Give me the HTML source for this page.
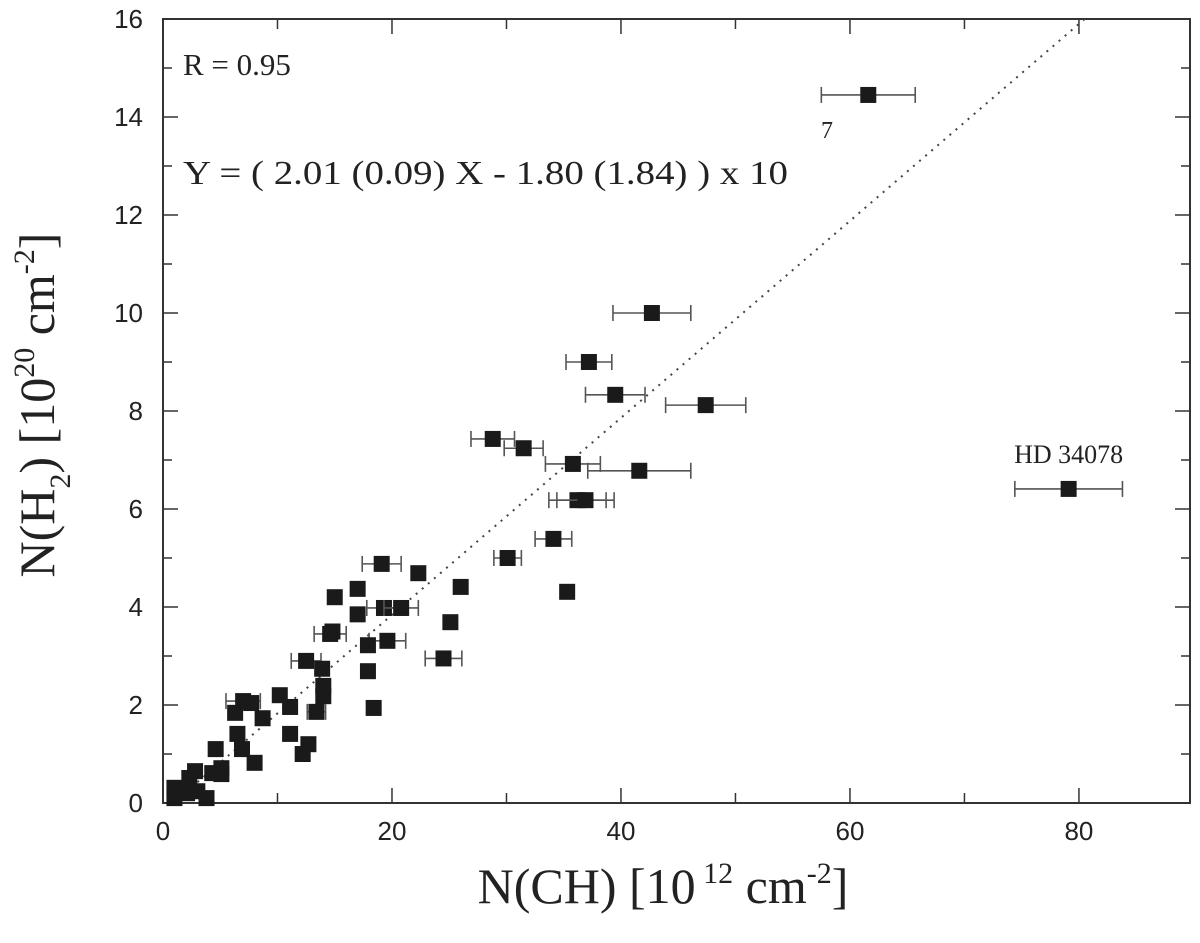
<!DOCTYPE html>
<html><head><meta charset="utf-8"><style>
html,body{margin:0;padding:0;background:#fff;}
svg{display:block;}
</style></head><body>
<svg id="chart" width="1200" height="943" xmlns="http://www.w3.org/2000/svg">
<g id="grid"></g>
<g id="marks"></g>
</svg>
<script>
const xs = [61.6,42.7,37.2,39.5,47.4,28.8,31.5,35.8,41.6,36.2,36.9,79.1,34.1,30.1,35.3,19.1,22.3,26.0,15.0,17.0,19.3,20.8,17.0,25.1,14.6,14.8,19.6,17.9,24.5,12.5,13.9,14.0,14.0,17.9,10.2,11.1,18.4,13.4,7.0,7.7,6.3,8.7,6.5,6.9,11.1,12.7,12.2,8.0,4.6,5.1,5.1,4.3,2.8,2.3,1.0,1.0,3.0,3.8,2.1];
const ys = [14.45,10.0,9.0,8.33,8.12,7.43,7.24,6.92,6.78,6.18,6.18,6.41,5.39,5.0,4.31,4.88,4.69,4.41,4.20,4.37,3.98,3.98,3.85,3.69,3.45,3.5,3.31,3.22,2.95,2.9,2.74,2.39,2.18,2.69,2.2,1.96,1.94,1.86,2.08,2.04,1.84,1.73,1.41,1.10,1.41,1.2,1.0,0.82,1.10,0.71,0.59,0.61,0.65,0.51,0.31,0.10,0.24,0.10,0.20];
const xerr = [4.1,3.4,2.0,2.6,3.5,1.9,1.7,2.4,4.5,2.5,2.5,4.7,1.6,1.2,0,1.7,0,0,0,0,1.5,1.5,0,0,1.4,0,1.6,0,1.6,1.3,0,0,0,0,0,0,0,0.8,1.5,0,0,0,0,0,0,0,0,0,0,0,0,0,0,0,0,0,0,0,0];
const xTicks = [0,20,40,60,80];
const yTicks = [0,2,4,6,8,10,12,14,16];
const fitSlope = 0.201, fitIntercept = -0.18;

const svg = document.getElementById('chart');
const G = document.getElementById('grid'), M = document.getElementById('marks');
const L=163,R=1190,T=19,B=803, XMAX=89.7, YMAX=16;
const sx = v => L + v*(R-L)/XMAX;
const sy = v => B - v*(B-T)/YMAX;
const NS='http://www.w3.org/2000/svg';
function mk(tag, attrs, parent, text){
  const e=document.createElementNS(NS,tag);
  for(const k in attrs) e.setAttribute(k,attrs[k]);
  if(text!==undefined) e.textContent=text;
  parent.appendChild(e); return e;
}
const fr = mk('rect',{x:L,y:T,width:R-L,height:B-T,fill:'none',stroke:'#333','stroke-width':2},G);


for(let v=0; v<=XMAX; v+=10){
  const len = v%20===0?15:10;
  mk('line',{x1:sx(v),x2:sx(v),y1:B,y2:B-len,stroke:'#333','stroke-width':1.5},G);
  mk('line',{x1:sx(v),x2:sx(v),y1:T,y2:T+len,stroke:'#333','stroke-width':1.5},G);
}
xTicks.forEach(v=>{
  const t=mk('text',{x:sx(v),y:B+37,'text-anchor':'middle','font-family':'Liberation Sans, sans-serif','font-size':26,fill:'#222'},G,String(v));
  
  
});
for(let v=0; v<=YMAX; v+=1){
  const len = v%2===0?15:9;
  mk('line',{x1:L,x2:L+len,y1:sy(v),y2:sy(v),stroke:'#333','stroke-width':1.5},G);
  mk('line',{x1:R,x2:R-len,y1:sy(v),y2:sy(v),stroke:'#333','stroke-width':1.5},G);
}
yTicks.forEach(v=>{
  const t=mk('text',{x:L-20,y:sy(v)+9,'text-anchor':'end','font-family':'Liberation Sans, sans-serif','font-size':26,fill:'#222'},G,String(v));
  
  
});
const x0 = -fitIntercept/fitSlope, x1 = Math.min(XMAX,(YMAX-fitIntercept)/fitSlope);
const fl = mk('line',{x1:sx(x0),y1:sy(0),x2:sx(x1),y2:sy(fitSlope*x1+fitIntercept),stroke:'#444','stroke-width':2,'stroke-dasharray':'2 6'},M);


xs.forEach((x,i)=>{
  const g=mk('g',{},M);
  
  
  const e=xerr[i];
  if(e>0){
    const cx1=sx(x-e), cx2=sx(x+e), cy=sy(ys[i]);
    mk('line',{x1:cx1,x2:cx2,y1:cy,y2:cy,stroke:'#555','stroke-width':1.6},g);
    mk('line',{x1:cx1,x2:cx1,y1:cy-8,y2:cy+8,stroke:'#555','stroke-width':1.6},g);
    mk('line',{x1:cx2,x2:cx2,y1:cy-8,y2:cy+8,stroke:'#555','stroke-width':1.6},g);
  }
  mk('rect',{x:sx(x)-8,y:sy(ys[i])-8,width:16,height:16,fill:'#1a1a1a'},g);
});
const serif='Liberation Serif, serif';
let t;
t=mk('text',{x:183,y:75,'font-family':serif,'font-size':31,fill:'#222'},M,'R = 0.95');
 
t=mk('text',{x:183,y:184,'font-family':serif,'font-size':34,fill:'#222',textLength:605,lengthAdjust:'spacingAndGlyphs'},M,'Y = ( 2.01 (0.09) X - 1.80 (1.84) ) x 10');
 
t=mk('text',{x:821,y:138,'font-family':serif,'font-size':24,fill:'#222'},M,'7');
 
t=mk('text',{x:sx(79.1),y:sy(6.41)-26,'text-anchor':'middle','font-family':serif,'font-size':26,fill:'#222'},M,'HD 34078');
 
t=mk('text',{x:663,y:903,'text-anchor':'middle','font-family':serif,'font-size':50,fill:'#222'},G);
t.innerHTML='N(CH) [10<tspan dy="-20" font-size="30"> 12</tspan><tspan dy="20"> cm</tspan><tspan dy="-20" font-size="30">-2</tspan><tspan dy="20">]</tspan>';
 
t=mk('text',{x:0,y:0,'text-anchor':'middle','font-family':serif,'font-size':50,fill:'#222',transform:'translate(54,405) rotate(-90)'},G);
t.innerHTML='N(H<tspan dy="16" font-size="30">2</tspan><tspan dy="-16">) [10</tspan><tspan dy="-20" font-size="30">20</tspan><tspan dy="20"> cm</tspan><tspan dy="-20" font-size="30">-2</tspan><tspan dy="20">]</tspan>';
 
</script>
</body></html>
